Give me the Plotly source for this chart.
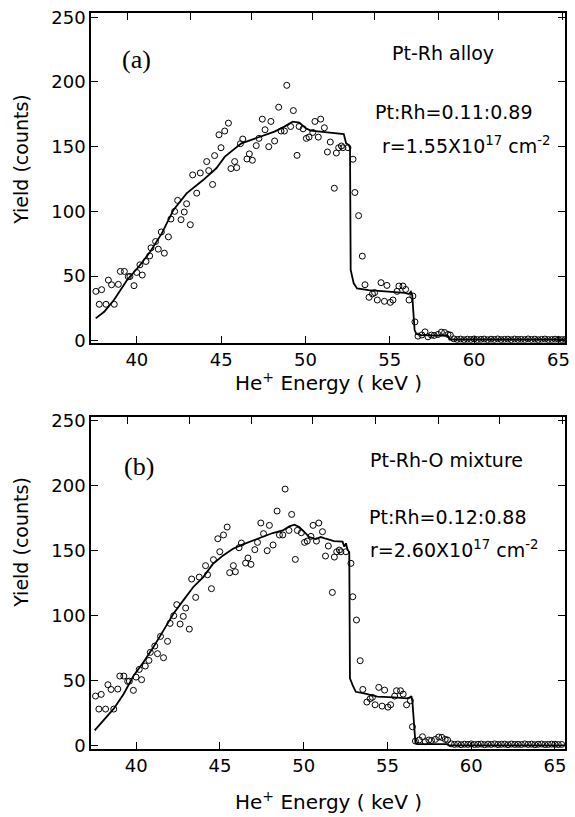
import plotly.graph_objects as go

# ---------------- data ----------------
# measured spectrum (same experimental points in both panels)
energy_keV = [37.57, 37.77, 37.91, 38.17, 38.31, 38.50, 38.66, 38.90, 39.02, 39.26,
              39.49, 39.59, 39.83, 39.99, 40.18, 40.32, 40.54, 40.76, 40.84, 41.11,
              41.27, 41.45, 41.63, 41.87, 42.02, 42.24, 42.42, 42.62, 42.81, 42.95,
              43.17, 43.31, 43.55, 43.76, 44.14, 44.26, 44.49, 44.61, 44.87, 44.99,
              45.21, 45.43, 45.58, 45.80, 45.92, 46.14, 46.28, 46.53, 46.67, 46.85,
              47.08, 47.24, 47.44, 47.60, 47.82, 47.95, 48.17, 48.41, 48.55, 48.75,
              48.89, 49.12, 49.28, 49.50, 49.62, 49.86, 50.05, 50.21, 50.43, 50.56,
              50.76, 50.90, 51.12, 51.30, 51.47, 51.71, 51.83, 51.97, 52.13, 52.22,
              52.52, 52.82, 52.93, 53.15, 53.37, 53.53, 53.77, 53.97, 54.10, 54.26,
              54.48, 54.68, 54.83, 55.03, 55.19, 55.43, 55.54, 55.78, 55.94, 56.14,
              56.37, 56.49, 56.67, 56.90, 57.09, 57.26, 57.47, 57.63, 57.86, 58.06,
              58.25, 58.45, 58.59,
              58.80, 59.00, 59.20, 59.40, 59.60, 59.80, 60.00, 60.20, 60.40, 60.60,
              60.80, 61.00, 61.20, 61.40, 61.60, 61.80, 62.00, 62.20, 62.40, 62.60,
              62.80, 63.00, 63.20, 63.40, 63.60, 63.80, 64.00, 64.20, 64.40, 64.60,
              64.80, 65.00, 65.20, 65.40]
yield_counts = [38.2, 28.2, 39.5, 28.2, 46.9, 43.3, 28.2, 43.6, 53.6, 53.6,
                49.5, 49.7, 42.6, 52.8, 58.7, 50.8, 61.3, 65.6, 71.8, 76.7,
                70.8, 84.1, 67.7, 80.3, 94.1, 100.0, 108.5, 93.6, 99.5, 105.9,
                89.7, 128.2, 114.1, 129.7, 138.5, 131.5, 120.8, 143.1, 159.2, 149.2,
                162.1, 168.2, 133.1, 138.5, 133.8, 152.3, 155.9, 140.5, 144.4, 139.5,
                150.8, 156.4, 171.3, 163.1, 150.0, 169.5, 154.4, 180.5, 162.1, 162.1,
                197.4, 165.6, 177.9, 143.3, 165.6, 163.8, 156.4, 157.4, 161.0, 169.5,
                157.4, 171.3, 164.6, 145.9, 153.6, 117.9, 145.1, 149.2, 150.5, 149.2,
                149.2, 140.3, 114.6, 96.7, 65.4, 43.3, 33.6, 36.2, 37.2, 31.5,
                44.9, 30.5, 42.8, 29.7, 31.5, 38.2, 42.3, 42.3, 39.7, 31.5,
                34.6, 14.6, 3.6, 4.5, 6.9, 3.1, 4.4, 4.1, 4.9, 6.7,
                6.4, 4.9, 4.4,
                1.5, 1.0, 1.3, 0.8, 1.2, 1.0, 1.4, 0.9, 1.1, 1.3,
                0.8, 1.2, 1.0, 1.4, 0.9, 1.1, 1.2, 0.8, 1.3, 1.0,
                1.1, 0.9, 1.4, 1.0, 1.2, 0.8, 1.1, 1.3, 0.9, 1.0,
                1.2, 1.1, 0.9, 1.0]

# simulated spectrum, panel (a): Pt-Rh alloy
fit_a_keV = [37.56, 38.06, 38.64, 39.42, 40.11, 40.79, 41.48, 42.17, 42.95, 43.93,
             44.71, 45.22, 46.20, 47.18, 48.16, 48.75, 49.24, 49.63, 50.02, 50.31,
             50.90, 51.49, 51.88, 52.27, 52.41, 52.57, 52.64, 52.68, 52.86, 53.06,
             53.74, 54.92, 55.89, 56.13, 56.25, 56.33, 56.41, 56.47, 56.58, 56.87,
             58.44, 58.54, 65.39]
fit_a_counts = [17.3, 22.4, 31.5, 47.0, 57.2, 68.8, 83.0, 101.1, 113.9, 124.2,
                133.3, 142.3, 152.6, 157.2, 161.6, 165.5, 169.3, 168.6, 164.2, 162.4,
                161.6, 160.8, 159.8, 159.8, 152.6, 151.3, 149.0, 54.7, 44.4, 40.5,
                39.2, 37.9, 37.1, 36.1, 37.9, 35.3, 20.0, 8.3, 5.2, 4.4,
                3.9, 1.0, 1.0]

# simulated spectrum, panel (b): Pt-Rh-O mixture
fit_b_keV = [37.52, 37.97, 38.66, 39.26, 39.85, 40.44, 41.03, 41.63, 42.22, 42.81,
             43.41, 44.00, 44.59, 45.19, 45.78, 46.37, 46.97, 47.56, 48.15, 48.75,
             49.14, 49.44, 49.73, 50.03, 50.33, 50.72, 51.02, 51.32, 51.81, 52.32,
             52.42, 52.52, 52.62, 52.72, 52.76, 52.92, 53.11, 53.61, 54.40, 55.39,
             56.18, 56.34, 56.43, 56.49, 56.61, 56.67, 56.77, 58.55, 58.65, 65.60]
fit_b_counts = [11.8, 18.2, 28.5, 40.0, 54.1, 64.4, 75.9, 88.7, 101.5, 111.8,
                122.1, 129.7, 140.0, 146.4, 151.5, 154.9, 157.9, 161.0, 163.6, 165.6,
                168.7, 170.0, 168.2, 164.4, 160.5, 159.0, 160.5, 159.2, 157.4, 156.9,
                153.1, 155.7, 150.5, 149.0, 51.8, 46.7, 41.5, 40.3, 37.7, 37.2,
                36.4, 37.2, 38.2, 33.8, 6.9, 2.3, 1.3, 1.3, 0.3, 0.3]

y_ticks = [0, 50, 100, 150, 200, 250]
x_ticks = [40, 45, 50, 55, 60, 65]
# unlabeled ticks on the top frame
top_ticks_a = [39.42, 43.18, 46.77, 50.41, 54.11, 57.87, 61.46, 65.22]
top_ticks_b = [39.47, 43.18, 46.88, 50.54, 54.26, 58.02, 61.70, 65.44]

SANS = "DejaVu Sans"
SERIF = "Liberation Serif"

fig = go.Figure()

marker_style = dict(symbol="circle-open", size=6, color="black", line=dict(width=1, color="black"))

# panel (a)
fig.add_trace(go.Scatter(x=energy_keV, y=yield_counts, mode="markers", marker=marker_style,
                         xaxis="x", yaxis="y", showlegend=False))
fig.add_trace(go.Scatter(x=fit_a_keV, y=fit_a_counts, mode="lines",
                         line=dict(color="black", width=1.8), xaxis="x", yaxis="y", showlegend=False))
# panel (b)
fig.add_trace(go.Scatter(x=energy_keV, y=yield_counts, mode="markers", marker=marker_style,
                         xaxis="x2", yaxis="y2", showlegend=False))
fig.add_trace(go.Scatter(x=fit_b_keV, y=fit_b_counts, mode="lines",
                         line=dict(color="black", width=1.8), xaxis="x2", yaxis="y2", showlegend=False))
# carriers for the top-frame tick axes
fig.add_trace(go.Scatter(x=[None], y=[None], xaxis="x3", yaxis="y", showlegend=False, hoverinfo="skip"))
fig.add_trace(go.Scatter(x=[None], y=[None], xaxis="x4", yaxis="y2", showlegend=False, hoverinfo="skip"))

range_a = [37.28, 65.39]
range_b = [37.30, 65.60]

common_x = dict(showgrid=False, zeroline=False, showline=True, linecolor="black", linewidth=1.5,
                mirror=True, ticks="inside", ticklen=7, tickwidth=1.2, tickcolor="black",
                tickvals=x_ticks, ticktext=[str(v) for v in x_ticks],
                tickfont=dict(family=SANS, size=18, color="black"))
common_y = dict(showgrid=False, zeroline=False, showline=True, linecolor="black", linewidth=1.5,
                mirror="ticks", ticks="inside", ticklen=7, tickwidth=1.2, tickcolor="black",
                tickvals=y_ticks, ticktext=[str(v) for v in y_ticks],
                tickfont=dict(family=SANS, size=18, color="black"))
top_x = dict(showgrid=False, zeroline=False, showline=False, side="top", ticks="inside",
             ticklen=7, tickwidth=1.2, tickcolor="black", showticklabels=False)

dom_a = [0.552, 1.0]
dom_b = [0.0, 0.4507]

fig.update_layout(
    width=575, height=817,
    margin=dict(l=91, r=5, t=13, b=68),
    paper_bgcolor="white", plot_bgcolor="white",
    xaxis=dict(range=range_a, anchor="y", domain=[0, 1], **common_x),
    yaxis=dict(range=[-1.5, 253.3], anchor="x", domain=dom_a, **common_y),
    xaxis2=dict(range=range_b, anchor="y2", domain=[0, 1], **common_x),
    yaxis2=dict(range=[-2.5, 252.6], anchor="x2", domain=dom_b, **common_y),
    xaxis3=dict(range=range_a, overlaying="x", anchor="y", tickvals=top_ticks_a, **top_x),
    xaxis4=dict(range=range_b, overlaying="x2", anchor="y2", tickvals=top_ticks_b, **top_x),
)

ann = []
def txt(text, x, y, xref, yref, size, family=SANS, angle=0):
    ann.append(dict(text=text, x=x, y=y, xref=xref, yref=yref, showarrow=False,
                    xanchor="center", yanchor="middle", textangle=angle,
                    font=dict(family=family, size=size, color="black")))

# panel labels and notes
txt("(a)", 39.95, 217, "x", "y", 26, SERIF)
txt("Pt-Rh alloy", 58.17, 222.4, "x", "y", 19)
txt("Pt:Rh=0.11:0.89", 58.76, 176.8, "x", "y", 19)
txt("r=1.55X10<sup>17</sup> cm<sup>-2</sup>", 59.52, 151.3, "x", "y", 19)

txt("(b)", 40.16, 214.4, "x2", "y2", 26, SERIF)
txt("Pt-Rh-O mixture", 58.55, 219.8, "x2", "y2", 19)
txt("Pt:Rh=0.12:0.88", 58.61, 175.9, "x2", "y2", 19)
txt("r=2.60X10<sup>17</sup> cm<sup>-2</sup>", 58.97, 151.3, "x2", "y2", 19)

# axis titles
txt("He<sup>+</sup> Energy ( keV )", 0.501, 0.4990, "paper", "paper", 20)
txt("He<sup>+</sup> Energy ( keV )", 0.501, -0.0710, "paper", "paper", 20)
txt("Yield (counts)", -0.148, 0.8016, "paper", "paper", 19, angle=-90)
txt("Yield (counts)", -0.148, 0.2813, "paper", "paper", 19, angle=-90)

fig.update_layout(annotations=ann)

fig.write_html("out.html",
               config={"displayModeBar": False},
               post_script="document.body.style.margin='0';document.body.style.overflow='hidden';")
